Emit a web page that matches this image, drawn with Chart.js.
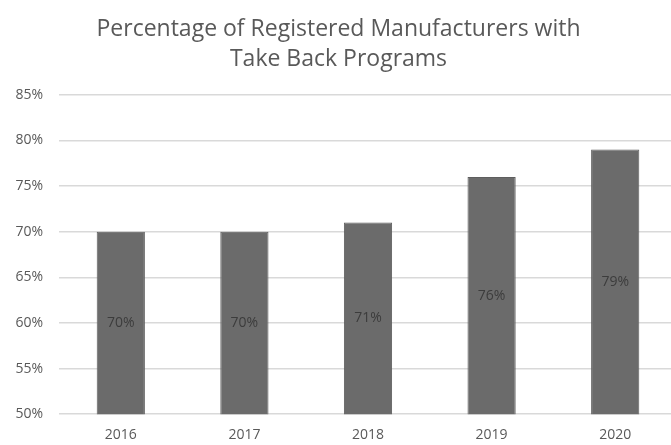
<!DOCTYPE html>
<html>
<head>
<meta charset="utf-8">
<script src="https://cdn.jsdelivr.net/npm/chart.js@4"></script>
<style>
  html, body { margin: 0; padding: 0; background: #fff; overflow: hidden; }
  #wrap { width: 680px; height: 455px; position: relative; }
</style>
</head>
<body>
<div id="wrap"><canvas id="c"></canvas></div>
<script>
const categories = ['2016', '2017', '2018', '2019', '2020'];
const percentages = [70, 70, 71, 76, 79];
const titleLines = ['Percentage of Registered Manufacturers with', 'Take Back Programs'];
const yMin = 50, yMax = 85, yStep = 5;

const centerLabels = {
  id: 'centerLabels',
  afterDraw(chart) {
    const ctx = chart.ctx;
    const meta = chart.getDatasetMeta(0);
    ctx.save();
    ctx.font = '14px "Open Sans", sans-serif';
    ctx.fillStyle = '#3c3c3c';
    ctx.textAlign = 'center';
    ctx.textBaseline = 'middle';
    meta.data.forEach((bar, i) => {
      const p = bar.getProps(['x', 'y'], true);
      const base = chart.scales.y.getPixelForValue(yMin);
      const y = (p.y + base) / 2;
      ctx.fillText(percentages[i] + '%', p.x, y);
    });
    ctx.restore();
  }
};

new Chart(document.getElementById('c'), {
  type: 'bar',
  data: {
    labels: categories,
    datasets: [{
      data: percentages,
      backgroundColor: '#6b6b6b',
      borderColor: '#5e5e5e',
      borderWidth: 1,
      categoryPercentage: 1,
      barPercentage: 0.39
    }]
  },
  options: {
    responsive: true,
    maintainAspectRatio: false,
    animation: false,
    layout: { padding: { left: 0, right: 3, top: 0, bottom: 0 } },
    plugins: {
      legend: { display: false },
      tooltip: { enabled: false },
      title: {
        display: true,
        text: titleLines,
        color: '#595959',
        font: { family: '"Open Sans", sans-serif', size: 23, weight: 'normal', lineHeight: 1.3 },
        padding: { top: 15, bottom: 20 }
      }
    },
    scales: {
      x: {
        grid: { display: false, drawTicks: false },
        border: { display: false },
        ticks: { color: '#595959', font: { family: '"Open Sans", sans-serif', size: 14 }, padding: 12 }
      },
      y: {
        min: yMin,
        max: yMax,
        afterFit(scale) { scale.width = 59; },
        grid: { color: '#d9d9d9', lineWidth: 1.5, drawTicks: false },
        border: { display: false },
        ticks: {
          stepSize: yStep,
          color: '#595959',
          padding: 16,
          font: { family: '"Open Sans", sans-serif', size: 14 },
          callback: v => v + '%'
        }
      }
    }
  },
  plugins: [centerLabels]
});
</script>
</body>
</html>
